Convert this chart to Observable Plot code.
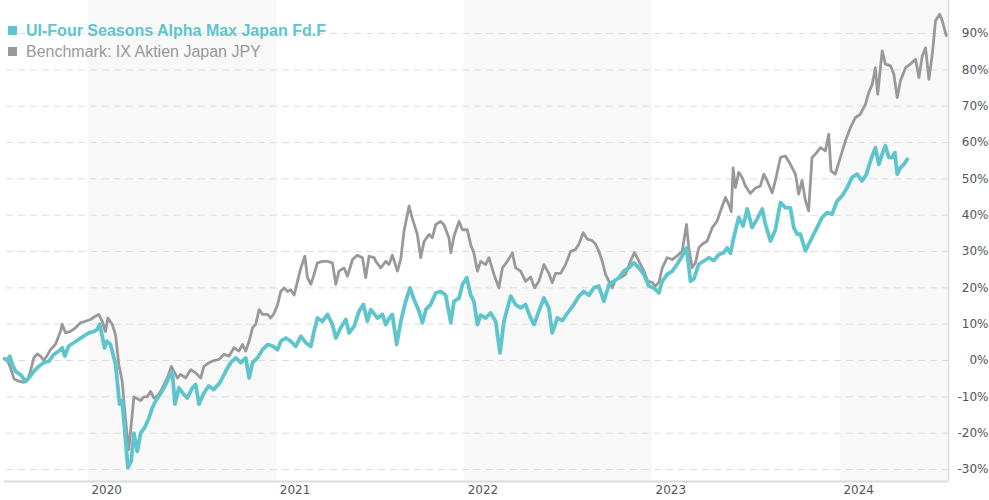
<!DOCTYPE html>
<html>
<head>
<meta charset="utf-8">
<script src="https://cdn.jsdelivr.net/npm/d3@7"></script>
<script src="https://cdn.jsdelivr.net/npm/@observablehq/plot@0.6"></script>
<style>
  body { margin: 0; background: #fff; }
  #wrap { position: relative; width: 989px; height: 500px; }
  #legend { position: absolute; left: 8px; top: 20px; font-family: "Liberation Sans", Arial, sans-serif; font-size: 16px; line-height: 21px; pointer-events: none; }
  #legend .row { white-space: nowrap; }
  #legend .sw { display: inline-block; width: 9px; height: 9px; margin-right: 9px; vertical-align: 1px; }
</style>
</head>
<body>
<div id="wrap">
  <div id="chart"></div>
  <div id="legend"></div>
</div>
<script>
// ---- data (dates as decimal years, values in % performance) ----
const fundName = "UI-Four Seasons Alpha Max Japan Fd.F";
const benchName = "Benchmark: IX Aktien Japan JPY";
const fundColor = "#5ec5cc";
const benchColor = "#999999";

const benchDates = [2019.553,2019.568,2019.585,2019.603,2019.629,2019.656,2019.674,2019.691,2019.709,2019.727,2019.745,2019.762,2019.780,2019.798,2019.824,2019.851,2019.860,2019.878,2019.904,2019.931,2019.957,2019.984,2020.011,2020.037,2020.055,2020.073,2020.090,2020.103,2020.126,2020.144,2020.161,2020.179,2020.191,2020.206,2020.214,2020.232,2020.241,2020.259,2020.277,2020.294,2020.312,2020.330,2020.347,2020.365,2020.383,2020.401,2020.419,2020.440,2020.454,2020.472,2020.489,2020.516,2020.543,2020.569,2020.596,2020.613,2020.640,2020.666,2020.693,2020.720,2020.746,2020.773,2020.799,2020.818,2020.835,2020.853,2020.871,2020.888,2020.906,2020.924,2020.951,2020.968,2020.986,2021.004,2021.021,2021.039,2021.057,2021.074,2021.092,2021.110,2021.128,2021.149,2021.163,2021.181,2021.198,2021.216,2021.243,2021.270,2021.296,2021.314,2021.331,2021.358,2021.376,2021.403,2021.429,2021.456,2021.473,2021.491,2021.518,2021.527,2021.553,2021.580,2021.597,2021.615,2021.642,2021.660,2021.677,2021.704,2021.722,2021.748,2021.766,2021.784,2021.810,2021.828,2021.846,2021.872,2021.890,2021.916,2021.926,2021.943,2021.970,2021.988,2022.014,2022.032,2022.049,2022.068,2022.085,2022.112,2022.129,2022.156,2022.182,2022.201,2022.227,2022.254,2022.271,2022.298,2022.324,2022.351,2022.372,2022.395,2022.422,2022.448,2022.466,2022.484,2022.511,2022.537,2022.564,2022.590,2022.608,2022.631,2022.653,2022.679,2022.697,2022.714,2022.732,2022.750,2022.768,2022.786,2022.803,2022.830,2022.856,2022.883,2022.904,2022.927,2022.954,2022.975,2022.998,2023.016,2023.034,2023.052,2023.078,2023.105,2023.131,2023.158,2023.181,2023.193,2023.211,2023.229,2023.246,2023.264,2023.291,2023.318,2023.344,2023.362,2023.388,2023.406,2023.419,2023.429,2023.441,2023.459,2023.477,2023.495,2023.521,2023.548,2023.574,2023.592,2023.610,2023.637,2023.654,2023.681,2023.707,2023.734,2023.761,2023.778,2023.796,2023.814,2023.831,2023.849,2023.867,2023.894,2023.920,2023.938,2023.950,2023.973,2024.000,2024.027,2024.053,2024.080,2024.106,2024.133,2024.151,2024.169,2024.186,2024.198,2024.222,2024.239,2024.266,2024.284,2024.302,2024.319,2024.346,2024.372,2024.399,2024.417,2024.435,2024.452,2024.470,2024.488,2024.505,2024.527,2024.541,2024.562];
const benchValues = [0.5,0,-2,-5,-5.7,-6,-5.5,-3,0.7,1.8,1.2,0,1.4,3,4.4,8,10,7.6,8,9,10.4,10.8,11.3,12.2,12.7,10.8,8,11.7,10,7,-1.1,-5.7,-13,-21,-24.5,-15,-10,-10.5,-11,-10,-10,-8.5,-10.3,-9.8,-8.5,-6.6,-4.8,-1.6,-3,-4.8,-3.8,-4.8,-2.5,-3.4,-4.8,-1.6,-0.6,0,0.3,1.7,1.2,3.5,2.6,4.4,2.6,5.3,9,10,14,12.7,12.7,11.7,13,15.4,19,20,19,19.5,18,21.8,25.5,28.7,22.8,21,23.7,26.9,27.3,27.3,26.9,21,24.6,25.5,23.2,27.8,29,28.3,22.8,28.7,28.3,27.3,25.5,27.3,26.4,29,24.6,28,35.6,42.5,39,34.7,28.3,32.8,34.7,33.8,37.4,38.3,37.4,33.8,29.7,34.2,38.3,36,36,31.9,29.6,24.6,27.3,26.4,28.3,23.7,20,25.5,27.3,29.6,25.5,24.6,21.8,23,20,21.8,26.4,24,21.4,24,24,26.4,30,30.6,32,35.2,33.4,33,32,30.1,27.4,23.7,21.8,20,22.3,22.8,23.7,27.4,29.7,27.4,24.6,21.8,21.5,20.5,21.5,25.5,28.3,27.8,28.8,30.1,37.5,31,25.5,27,31,32,32.9,36.6,38.4,41.2,44.9,43,41,53,47.6,51.8,50.4,48,46,47.5,48,51.3,49.5,46.2,49.5,55.9,56.3,54,51.3,45.8,49.5,44,41.2,55.9,56.8,58.6,57.7,62.3,52.2,51.3,55.9,60.5,64.1,66.9,67.8,70.5,73.8,76,80.6,73.3,85.2,81.6,81.1,78.8,72.4,77,80.6,81.6,82.9,77.9,83.9,86.1,77.4,84.3,93.5,95.3,93.5,89.4];

const fundDates = [2019.553,2019.568,2019.581,2019.594,2019.612,2019.638,2019.665,2019.682,2019.709,2019.736,2019.762,2019.789,2019.815,2019.842,2019.860,2019.874,2019.895,2019.922,2019.948,2019.975,2020.002,2020.028,2020.046,2020.060,2020.073,2020.085,2020.099,2020.117,2020.144,2020.165,2020.179,2020.197,2020.209,2020.227,2020.241,2020.259,2020.277,2020.298,2020.321,2020.339,2020.356,2020.379,2020.401,2020.427,2020.445,2020.459,2020.480,2020.507,2020.525,2020.552,2020.569,2020.587,2020.612,2020.638,2020.665,2020.691,2020.702,2020.729,2020.755,2020.782,2020.809,2020.835,2020.853,2020.871,2020.897,2020.924,2020.951,2020.977,2021.004,2021.021,2021.048,2021.074,2021.101,2021.128,2021.154,2021.181,2021.198,2021.216,2021.243,2021.270,2021.296,2021.314,2021.340,2021.367,2021.385,2021.411,2021.438,2021.461,2021.482,2021.500,2021.536,2021.562,2021.580,2021.597,2021.615,2021.638,2021.660,2021.686,2021.709,2021.730,2021.757,2021.775,2021.793,2021.819,2021.846,2021.872,2021.899,2021.926,2021.943,2021.970,2021.988,2022.011,2022.032,2022.049,2022.068,2022.085,2022.112,2022.138,2022.165,2022.188,2022.209,2022.245,2022.271,2022.298,2022.324,2022.347,2022.369,2022.395,2022.422,2022.448,2022.466,2022.493,2022.520,2022.546,2022.581,2022.608,2022.635,2022.661,2022.688,2022.714,2022.741,2022.768,2022.794,2022.821,2022.847,2022.874,2022.901,2022.927,2022.954,2022.980,2023.007,2023.034,2023.052,2023.078,2023.105,2023.131,2023.158,2023.181,2023.202,2023.220,2023.246,2023.273,2023.299,2023.326,2023.353,2023.379,2023.397,2023.415,2023.432,2023.459,2023.482,2023.504,2023.530,2023.557,2023.584,2023.601,2023.628,2023.654,2023.681,2023.707,2023.734,2023.752,2023.770,2023.787,2023.814,2023.840,2023.867,2023.903,2023.929,2023.956,2023.982,2024.009,2024.036,2024.062,2024.089,2024.115,2024.138,2024.160,2024.186,2024.204,2024.222,2024.239,2024.257,2024.275,2024.289,2024.302,2024.319,2024.337,2024.355];
const fundValues = [0.5,0,1.2,-1,-3,-3.9,-5.7,-4.8,-3,-1.6,-0.6,-0.2,1.6,2.6,3.5,1.2,4,4.9,5.8,6.7,7.6,8,8.5,10,6.7,3.5,5.3,4.4,-1.1,-12,-11,-22,-29.5,-27.7,-20,-25,-20,-18.5,-15.8,-13,-11.2,-9.4,-7.5,-4.8,-3,-12,-7.5,-9.4,-10.3,-7.5,-6.6,-12,-9,-7,-8,-6.5,-5.7,-2.9,-0.6,0.7,-0.6,0.7,-4.8,-0.6,0.7,3,4.4,4,3,5.3,6.2,5.3,3.9,6.7,4.9,3.9,8,11.7,10.8,12.7,9.9,6.2,9,11.3,7.6,9.4,13.6,15.4,10.8,14,11.7,12.7,9.9,11.5,12.7,4.4,10.8,16.3,20,16.8,13.6,10.4,14,15.4,18.6,19,18,10.4,16.3,17.2,20.9,22.8,18,16.3,9.9,12.5,11.7,13.1,10.8,2.1,10.8,17.7,15.4,14.5,15.4,12.2,9.9,13.6,17.2,14.5,7.6,11.7,11,13,15.4,17.7,19,18,20,20.5,16.3,20.9,21.8,22.8,24.6,25.5,26.9,25.5,23.7,20.5,20,18.6,21.8,23.7,24.6,26.5,28.8,31,21.8,22.5,26.5,27.4,28.3,27.5,29.2,29.7,31,29.5,33.8,39.4,37,41.7,36.6,39,41.7,37.5,32.9,36,43.5,42.1,42,36.6,34.8,34.8,30.2,32.9,35.7,39.4,40.7,40.3,43.9,45.3,47.6,50.4,51.3,49.4,51.3,55,58.6,54,56.8,59.1,55.9,55.9,57.2,51.3,53.1,54,55.4];

const yearTicks = [2020, 2021, 2022, 2023, 2024];
const shadedYears = [2020, 2022, 2024];
const yTicks = [-30, -20, -10, 0, 10, 20, 30, 40, 50, 60, 70, 80, 90];
const xDomainYears = [2019.553, 2024.574];
const yDomain = [-33.3, 99.1];

// ---- helpers ----
function toDate(t) {
  const y = Math.floor(t);
  const s = Date.UTC(y, 0, 1), e = Date.UTC(y + 1, 0, 1);
  return new Date(s + (t - y) * (e - s));
}
const bench = benchDates.map((d, i) => ({date: toDate(d), value: benchValues[i]}));
const fund = fundDates.map((d, i) => ({date: toDate(d), value: fundValues[i]}));
const xDomain = xDomainYears.map(toDate);
const bands = shadedYears.map(y => ({
  x1: toDate(y),
  x2: new Date(Math.min(+toDate(y + 1), +xDomain[1]))
}));
const yearDates = yearTicks.map(y => toDate(y));

const chart = Plot.plot({
  width: 989,
  height: 500,
  marginLeft: 4,
  marginRight: 41,
  marginTop: 0,
  marginBottom: 19,
  style: {fontFamily: "'DejaVu Sans', Verdana, sans-serif", fontSize: "12px", background: "#fff"},
  x: {type: "utc", domain: xDomain},
  y: {domain: yDomain},
  marks: [
    Plot.rectX(bands, {x1: "x1", x2: "x2", fill: "#f8f8f8"}),
    Plot.ruleY(yTicks, {stroke: "#dddddd", strokeWidth: 1, strokeDasharray: "7,5", x1: xDomain[0], x2: xDomain[1], dx: 2}),
    Plot.ruleY([yDomain[0]], {stroke: "#dcdcdc", strokeWidth: 2}),
    Plot.ruleX([xDomain[1]], {stroke: "#dcdcdc", strokeWidth: 1.5}),
    Plot.line(bench, {x: "date", y: "value", stroke: benchColor, strokeWidth: 2.8, strokeLinejoin: "round"}),
    Plot.line(fund, {x: "date", y: "value", stroke: fundColor, strokeWidth: 3.8, strokeLinejoin: "round"}),
    Plot.axisY({anchor: "right", ticks: yTicks, tickFormat: d => d + "%", tickSize: 0, tickPadding: 0, textAnchor: "end", dx: 40, fill: "#555", label: null}),
    Plot.axisX({ticks: yearDates, tickFormat: d => String(d.getUTCFullYear()), tickSize: 0, tickPadding: 4, textAnchor: "start", dx: 3, fill: "#555", label: null})
  ]
});
document.getElementById("chart").appendChild(chart);

const legend = document.getElementById("legend");
[[fundName, fundColor, "bold"], [benchName, benchColor, "normal"]].forEach(([name, color, weight]) => {
  const row = document.createElement("div");
  row.className = "row";
  row.style.color = color;
  row.style.fontWeight = weight;
  const sw = document.createElement("span");
  sw.className = "sw";
  sw.style.background = color;
  row.appendChild(sw);
  row.appendChild(document.createTextNode(name));
  legend.appendChild(row);
});
</script>
</body>
</html>
